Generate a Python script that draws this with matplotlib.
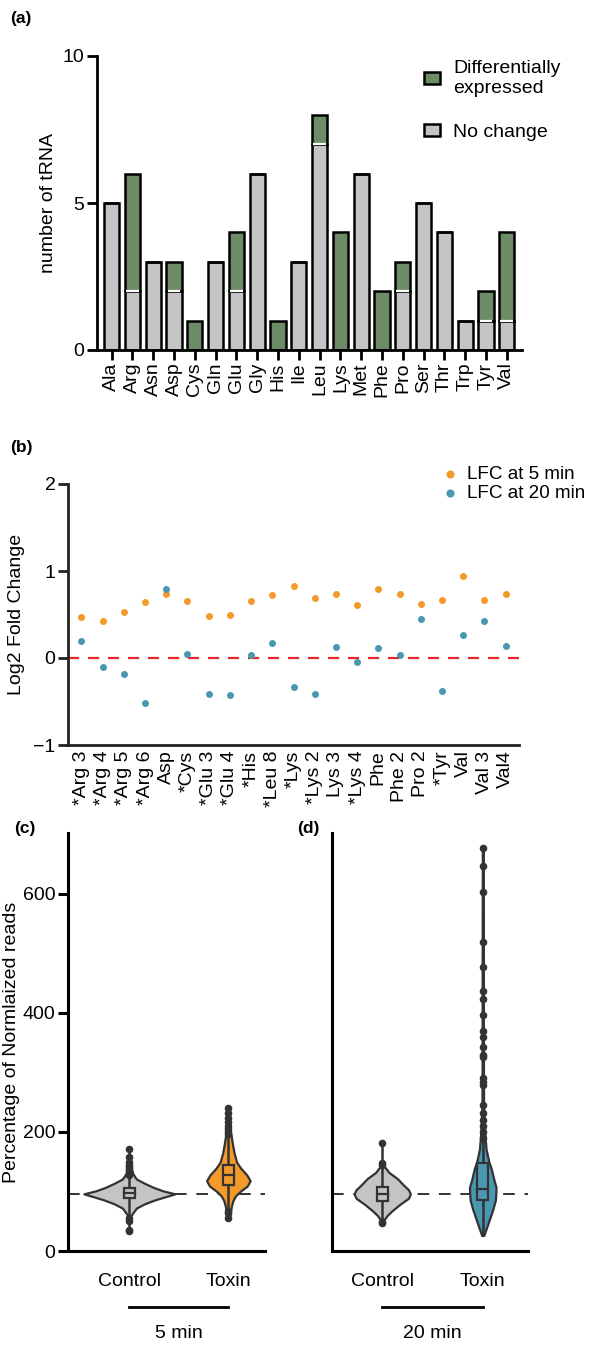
import matplotlib
matplotlib.use("Agg")
import matplotlib.pyplot as plt
from matplotlib.patches import Patch
import matplotlib.transforms as mtransforms
import numpy as np

plt.rcParams["font.family"] = ["Liberation Sans", "DejaVu Sans"]

# ── Data ─────────────────────────────────────────────────────────────

# (a) tRNA counts per amino acid
amino = ["Ala", "Arg", "Asn", "Asp", "Cys", "Gln", "Glu", "Gly", "His", "Ile",
         "Leu", "Lys", "Met", "Phe", "Pro", "Ser", "Thr", "Trp", "Tyr", "Val"]
no_change = [5, 2, 3, 2, 0, 3, 2, 6, 0, 3, 7, 0, 6, 0, 2, 5, 4, 1, 1, 1]
diff_expr = [0, 4, 0, 1, 1, 0, 2, 0, 1, 0, 1, 4, 0, 2, 1, 0, 0, 0, 1, 3]

# (b) log2 fold change per tRNA
trna = ["*Arg 3", "*Arg 4", "*Arg 5", "*Arg 6", "Asp", "*Cys", "*Glu 3",
        "*Glu 4", "*His", "*Leu 8", "*Lys", "*Lys 2", "Lys 3", "*Lys 4",
        "Phe", "Phe 2", "Pro 2", "*Tyr", "Val", "Val 3", "Val4"]
lfc_5min = [0.47, 0.42, 0.53, 0.64, 0.73, 0.65, 0.48, 0.50, 0.66, 0.72, 0.83,
            0.69, 0.74, 0.61, 0.79, 0.74, 0.62, 0.67, 0.94, 0.67, 0.74]
lfc_20min = [0.20, -0.10, -0.18, -0.52, 0.79, 0.05, -0.41, -0.43, 0.03, 0.17,
             -0.33, -0.41, 0.13, -0.05, 0.11, 0.04, 0.45, -0.38, 0.27, 0.43, 0.14]

# (c)/(d) violin outlines (value, half width), box stats and outliers
groups = ["Control", "Toxin"]
baseline = 96

ctrl5_y = [58, 64, 72, 79, 86, 91, 96, 101, 107, 114, 121, 130, 142]
ctrl5_hw = [0.01, 0.035, 0.07, 0.15, 0.26, 0.36, 0.46, 0.34, 0.24, 0.15, 0.07, 0.035, 0.012]
ctrl5_box = [89, 97, 105]
ctrl5_pts = [172, 158, 150, 145, 141, 137, 134, 130, 127, 55, 50, 36, 33]

tox5_y = [59, 64, 75, 85, 93, 101, 109, 118, 128, 139, 149, 165, 181, 192, 203]
tox5_hw = [0.01, 0.02, 0.03, 0.047, 0.074, 0.125, 0.19, 0.22, 0.185, 0.125, 0.084,
           0.057, 0.04, 0.03, 0.017]
tox5_box = [111, 128, 144]
tox5_pts = [240, 232, 224, 216, 210, 205, 200, 196, 56, 63, 68]

ctrl20_y = [52, 60, 68, 79, 88.5, 96, 103, 111, 121.6, 132, 144]
ctrl20_hw = [0.016, 0.05, 0.10, 0.18, 0.26, 0.28, 0.26, 0.21, 0.15, 0.066, 0.012]
ctrl20_box = [84, 96, 107]
ctrl20_pts = [182, 147, 145, 49, 47]

tox20_y = [26, 37, 53, 70, 85, 96, 107, 120, 139, 150, 171, 198, 225, 246, 300,
           400, 500, 600, 677]
tox20_hw = [0.01, 0.033, 0.066, 0.1, 0.125, 0.13, 0.132, 0.11, 0.083, 0.06, 0.033,
            0.02, 0.013, 0.008, 0.007, 0.006, 0.006, 0.005, 0.004]
tox20_box = [85, 104, 148]
tox20_pts = [677, 646, 603, 519, 477, 436, 424, 396, 370, 359, 343, 329, 326,
             291, 283, 278, 246, 232, 220, 210, 200, 190]

# ── Style ────────────────────────────────────────────────────────────
c_green = "#6e8b68"
c_gray = "#c4c4c4"
c_orange = "#f39a2a"
c_blue = "#4a97b0"
c_dark = "#333333"
FS = 14

W, H = 593, 1345
fig = plt.figure(figsize=(W / 100, H / 100), dpi=100)
fig.patch.set_facecolor("white")


def axes_px(left, right, top, bottom):
    return fig.add_axes([left / W, 1 - bottom / H, (right - left) / W, (bottom - top) / H])


def style_axes(ax, lw=2.0, color="black"):
    for s in ("top", "right"):
        ax.spines[s].set_visible(False)
    for s in ("left", "bottom"):
        ax.spines[s].set_linewidth(lw)
        ax.spines[s].set_color(color)
    ax.tick_params(width=lw, length=7, labelsize=FS, color=color, pad=2)


# ── (a) stacked bars ─────────────────────────────────────────────────
ax_a = axes_px(97, 522, 56, 350)
x = np.arange(len(amino))
bw = 0.73
ax_a.bar(x, no_change, width=bw, color=c_gray, edgecolor="black", linewidth=1.8,
         zorder=2)
ax_a.bar(x, diff_expr, width=bw, bottom=no_change, color=c_green, edgecolor="black",
         linewidth=1.8, zorder=2)
for xi, nc, de in zip(x, no_change, diff_expr):
    if nc > 0 and de > 0:
        ax_a.hlines(nc, xi - bw / 2 + 0.06, xi + bw / 2 - 0.06, color="white",
                    linewidth=1.6, zorder=3)
ax_a.set_xlim(-0.7, 19.73)
ax_a.set_ylim(0, 10)
ax_a.set_yticks([0, 5, 10])
ax_a.set_xticks(x)
ax_a.set_xticklabels(amino, rotation=90)
ax_a.set_ylabel("number of tRNA", fontsize=FS, labelpad=4)
style_axes(ax_a)
handles = [Patch(facecolor=c_green, edgecolor="black", linewidth=1.8),
           Patch(facecolor=c_gray, edgecolor="black", linewidth=1.8)]
fig.legend(handles, ["Differentially\nexpressed", "No change"], loc="upper left",
           bbox_to_anchor=(424 / W, 1 - 60 / H), frameon=False, fontsize=FS,
           handlelength=0.8, handleheight=0.6, handletextpad=0.7, labelspacing=1.4,
           borderpad=0, borderaxespad=0)
fig.text(10 / W, 1 - 18 / H, "(a)", fontsize=12.5, fontweight="bold", va="center")

# ── (b) log2 fold change ─────────────────────────────────────────────
ax_b = axes_px(68, 519, 484, 745)
xb = np.arange(len(trna))
ax_b.axhline(0, color="#e8262a", linewidth=1.6, dashes=(5, 4), zorder=1)
ax_b.scatter(xb, lfc_5min, s=16, color=c_orange, zorder=3, label="LFC at 5 min")
ax_b.scatter(xb, lfc_20min, s=16, color=c_blue, zorder=3, label="LFC at 20 min")
ax_b.set_xlim(-0.63, 20.63)
ax_b.set_ylim(-1, 2)
ax_b.set_yticks([-1, 0, 1, 2])
ax_b.set_yticklabels(["\u22121", "0", "1", "2"])
ax_b.set_xticks(xb)
ax_b.set_xticklabels(trna, rotation=90)
ax_b.set_ylabel("Log2 Fold Change", fontsize=FS, labelpad=6)
style_axes(ax_b, color="#222222")
ax_b.tick_params(axis="x", length=0, pad=4)
ax_b.legend(loc="upper left", bbox_to_anchor=(441 / W, 1 - 466 / H),
            bbox_transform=fig.transFigure, frameon=False, fontsize=13.6,
            handlelength=1.0, handletextpad=0.4, labelspacing=0.1, borderpad=0,
            borderaxespad=0, markerscale=1.2)
fig.text(10 / W, 1 - 448 / H, "(b)", fontsize=12.5, fontweight="bold", va="center")


# ── (c)/(d) violins ─────────────────────────────────────────────────
def draw_violin(ax, pos, ys, hws, color, box, pts):
    ys = np.asarray(ys, dtype=float)
    hws = np.asarray(hws, dtype=float)
    ax.fill_betweenx(ys, pos - hws, pos + hws, facecolor=color, edgecolor=c_dark,
                     linewidth=1.6, zorder=3)
    lo = min(min(pts), ys.min())
    hi = max(max(pts), ys.max())
    ax.plot([pos, pos], [lo, hi], color=c_dark, linewidth=1.8, zorder=4,
            solid_capstyle="butt")
    q1, med, q3 = box
    ax.add_patch(plt.Rectangle((pos - 0.055, q1), 0.11, q3 - q1, facecolor=color,
                               edgecolor=c_dark, linewidth=1.6, zorder=5))
    ax.plot([pos - 0.055, pos + 0.055], [med, med], color=c_dark, linewidth=1.6,
            zorder=6)
    ax.scatter([pos] * len(pts), pts, s=30, color=c_dark, zorder=6, linewidths=0)


def violin_panel(left, right, xlim, data, label, tag, tag_x, show_y):
    ax = axes_px(left, right, 833, 1251)
    ax.axhline(baseline, color=c_dark, linewidth=1.4, dashes=(6, 5), zorder=1)
    for pos, (ys, hws, color, box, pts) in enumerate(data):
        draw_violin(ax, pos, ys, hws, color, box, pts)
    ax.set_xlim(*xlim)
    ax.set_ylim(0, 702)
    ax.set_xticks([0, 1])
    ax.set_xticklabels(groups)
    style_axes(ax, lw=2.2)
    ax.tick_params(axis="x", length=0, pad=16)
    if show_y:
        ax.set_yticks([0, 200, 400, 600])
        ax.set_ylabel("Percentage of Normlaized reads", fontsize=FS, labelpad=2)
    else:
        ax.set_yticks([])
    trans = mtransforms.blended_transform_factory(ax.transData, ax.transAxes)
    ax.plot([0, 1], [-0.135, -0.135], color="black", linewidth=2, transform=trans,
            clip_on=False)
    ax.text(0.5, -0.198, label, transform=trans, ha="center", va="center", fontsize=FS)
    fig.text(tag_x / W, 1 - 828 / H, tag, fontsize=12.5, fontweight="bold", va="center")
    return ax


violin_panel(68, 265, (-0.62, 1.37),
             [(ctrl5_y, ctrl5_hw, c_gray, ctrl5_box, ctrl5_pts),
              (tox5_y, tox5_hw, c_orange, tox5_box, tox5_pts)],
             "5 min", "(c)", 14, True)
violin_panel(332, 528, (-0.5, 1.45),
             [(ctrl20_y, ctrl20_hw, c_gray, ctrl20_box, ctrl20_pts),
              (tox20_y, tox20_hw, c_blue, tox20_box, tox20_pts)],
             "20 min", "(d)", 297, False)

fig.savefig("out.png", dpi=100, facecolor="white")
